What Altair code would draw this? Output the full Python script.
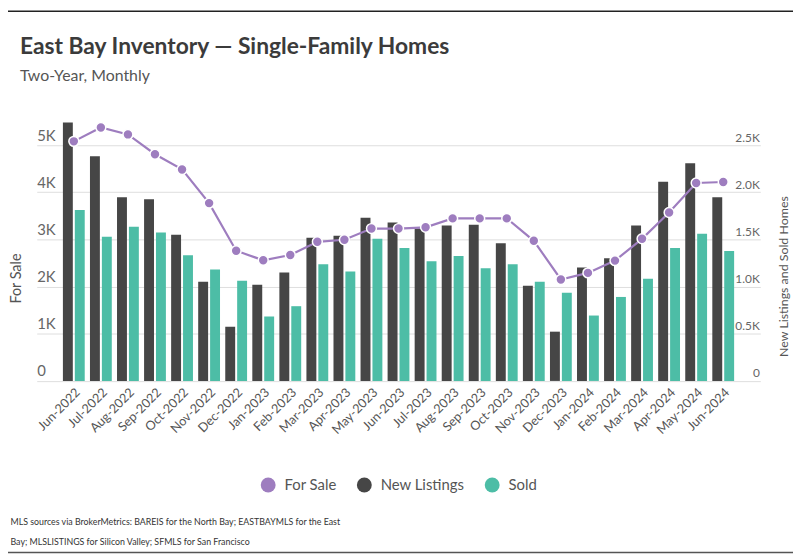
import altair as alt
import pandas as pd

months = ["Jun-2022", "Jul-2022", "Aug-2022", "Sep-2022", "Oct-2022", "Nov-2022", "Dec-2022",
          "Jan-2023", "Feb-2023", "Mar-2023", "Apr-2023", "May-2023", "Jun-2023", "Jul-2023",
          "Aug-2023", "Sep-2023", "Oct-2023", "Nov-2023", "Dec-2023", "Jan-2024", "Feb-2024",
          "Mar-2024", "Apr-2024", "May-2024", "Jun-2024"]
for_sale = [5078, 5372, 5225, 4805, 4483, 3769, 2760, 2557, 2668, 2949, 2992, 3229, 3229,
            3256, 3445, 3445, 3445, 2970, 2151, 2290, 2550, 3012, 3571, 4195, 4216]
new_listings = [2740, 2381, 1947, 1926, 1548, 1050, 575, 1019, 1149, 1517, 1538, 1730, 1678,
                1615, 1646, 1656, 1460, 1008, 522, 1202, 1299, 1646, 2111, 2308, 1947]
sold = [1811, 1527, 1635, 1572, 1331, 1181, 1061, 683, 792, 1236, 1160, 1506, 1408,
        1268, 1324, 1194, 1236, 1050, 935, 693, 890, 1082, 1408, 1559, 1376]

series_names = ["For Sale", "New Listings", "Sold"]
series_colors = ["#9e7dbf", "#464646", "#4dbda6"]
left_ticks = [0, 1000, 2000, 3000, 4000, 5000]
right_ticks = [0, 500, 1000, 1500, 2000, 2500]
title_text = "East Bay Inventory — Single-Family Homes"
subtitle_text = "Two-Year, Monthly"
footnote = ["MLS sources via BrokerMetrics: BAREIS for the North Bay; EASTBAYMLS for the East",
            "Bay; MLSLISTINGS for Silicon Valley; SFMLS for San Francisco"]

FONT = "Lato"
PURPLE = series_colors[0]

bars_df = pd.DataFrame({
    "month": months * 2,
    "series": ["New Listings"] * len(months) + ["Sold"] * len(months),
    "value": new_listings + sold,
})
line_df = pd.DataFrame({"month": months, "for_sale": for_sale})
deco_df = pd.DataFrame({"k": [0]})

x_enc = alt.X(
    "month:N", sort=months,
    scale=alt.Scale(paddingInner=0, paddingOuter=0.87),
    axis=alt.Axis(
        labelAngle=315, ticks=False, domain=False, grid=False,
        labelFontSize=12.8, labelColor="#555555", labelFont=FONT, labelPadding=5,
        title=footnote, titleX=-27, titleY=145, titleAlign="left", titleAnchor="start",
        titleBaseline="alphabetic", titleFontSize=8.9, titleFontWeight="normal",
        titleColor="#333333", titleFont=FONT, titleLineHeight=20,
    ),
)

bars = alt.Chart(bars_df).mark_bar().encode(
    x=x_enc,
    xOffset=alt.XOffset("series:N", sort=["New Listings", "Sold"],
                        scale=alt.Scale(paddingInner=0.167, paddingOuter=0.22)),
    y=alt.Y(
        "value:Q",
        scale=alt.Scale(domain=[0, 2750], nice=False, zero=True),
        axis=alt.Axis(
            orient="right", values=right_ticks,
            labelExpr="datum.value == 0 ? '0' : format(datum.value / 1000, '.1f') + 'K'",
            grid=False, ticks=False, domain=False,
            labelAlign="right", labelPadding=-1, labelBaseline="alphabetic", labelOffset=-4,
            labelFontSize=12, labelColor="#666666", labelFont=FONT,
            title="New Listings and Sold Homes", titleAngle=270, titleX=23, titleY=156,
            titleAlign="center", titleBaseline="middle", titleFontSize=12.5,
            titleFontWeight="normal", titleColor="#555555", titleFont=FONT,
        ),
    ),
    color=alt.Color(
        "series:N",
        scale=alt.Scale(domain=series_names, range=series_colors),
        legend=alt.Legend(
            title=None, orient="none", legendX=226, legendY=359, direction="horizontal",
            symbolType="circle", symbolSize=225, symbolStrokeWidth=0, symbolOpacity=1,
            labelFontSize=15, labelColor="#555555", labelFont=FONT,
            columnPadding=20, labelOffset=9,
        ),
    ),
)

y_left = alt.Y(
    "for_sale:Q",
    scale=alt.Scale(domain=[0, 5500], nice=False, zero=True),
    axis=alt.Axis(
        orient="left", values=left_ticks,
        labelExpr="datum.value == 0 ? '0' : (datum.value / 1000) + 'K'",
        grid=True, gridColor="#dedede", gridWidth=1, ticks=False, domain=False,
        labelAlign="left", labelPadding=0, labelBaseline="alphabetic", labelOffset=-5,
        labelFontSize=15, labelColor="#666666", labelFont=FONT,
        title="For Sale", titleX=-20, titleY=158, titleAlign="center", titleBaseline="middle",
        titleFontSize=14.5, titleFontWeight="normal", titleColor="#555555", titleFont=FONT,
    ),
)

line = alt.Chart(line_df).mark_line(color=PURPLE, strokeWidth=2.2).encode(x=x_enc, y=y_left)
points = alt.Chart(line_df).mark_circle(
    size=100, color=PURPLE, opacity=1, stroke="white", strokeWidth=1.5
).encode(x=x_enc, y=y_left)

top_rule = alt.Chart(deco_df).mark_rule(color="#222222", strokeWidth=1.5).encode(
    x=alt.value(-32), x2=alt.value(770), y=alt.value(-111.25)
)
bottom_rule = alt.Chart(deco_df).mark_rule(color="#555555", strokeWidth=1.5).encode(
    x=alt.value(-35), x2=alt.value(770), y=alt.value(435)
)

chart = alt.layer(
    bars, alt.layer(line, points), top_rule, bottom_rule
).resolve_scale(
    y="independent"
).properties(
    width=730, height=261.8,
    autosize=alt.AutoSizeParams(type="none"),
    padding={"left": 29, "top": 112, "right": 33, "bottom": 176},
    title=alt.TitleParams(
        text=title_text, subtitle=subtitle_text, anchor="start", frame="group",
        dx=-17, offset=-74, fontSize=23, font=FONT, fontWeight="bold", color="#3b3b3b",
        subtitleFont=FONT, subtitleFontSize=16, subtitleColor="#555555", subtitlePadding=9,
    ),
).configure_view(stroke=None)

chart.save("out.html", embed_options={"renderer": "svg", "actions": False})
